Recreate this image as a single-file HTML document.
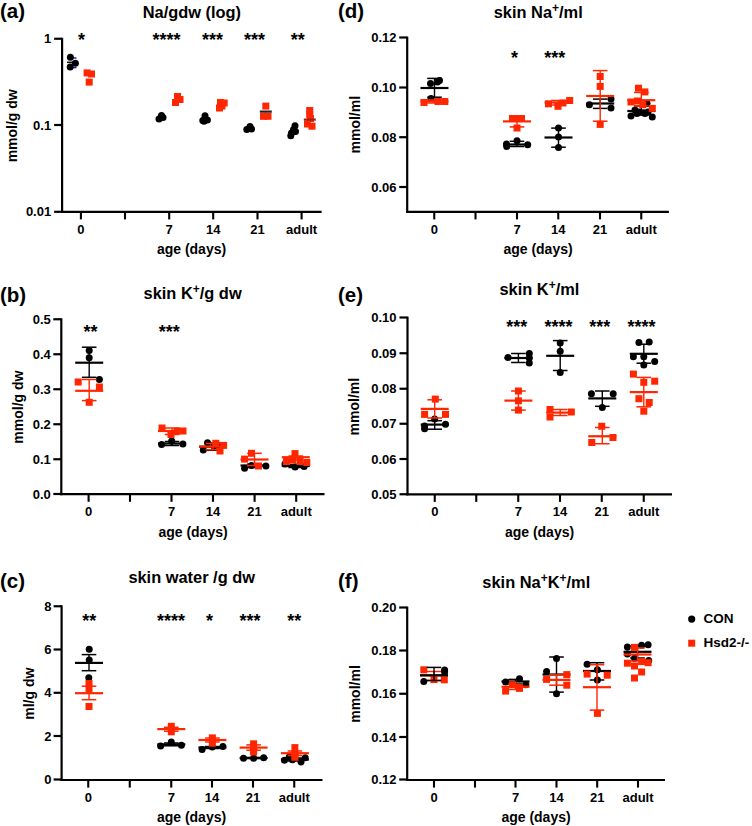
<!DOCTYPE html>
<html><head><meta charset="utf-8"><style>
html,body{margin:0;padding:0;background:#fff;}
svg{display:block;font-family:"Liberation Sans", sans-serif;}
</style></head><body>
<svg width="752" height="826" viewBox="0 0 752 826">
<rect width="752" height="826" fill="#fff"/>
<line x1="62.1" y1="37.8" x2="62.1" y2="212.8" stroke="#000000" stroke-width="2.2"/>
<line x1="54.1" y1="38.75" x2="62.1" y2="38.75" stroke="#000000" stroke-width="2.2"/>
<text x="51.2" y="43.35" font-size="13" text-anchor="end" font-weight="bold" >1</text>
<line x1="54.1" y1="125" x2="62.1" y2="125" stroke="#000000" stroke-width="2.2"/>
<text x="51.2" y="129.6" font-size="13" text-anchor="end" font-weight="bold" >0.1</text>
<line x1="54.1" y1="211.8" x2="62.1" y2="211.8" stroke="#000000" stroke-width="2.2"/>
<text x="51.2" y="216.4" font-size="13" text-anchor="end" font-weight="bold" >0.01</text>
<line x1="61.0" y1="211.8" x2="321.6" y2="211.8" stroke="#000000" stroke-width="2.2"/>
<line x1="80.9" y1="211.8" x2="80.9" y2="219.4" stroke="#000000" stroke-width="2.1"/>
<text x="80.9" y="233.7" font-size="13" text-anchor="middle" font-weight="bold" >0</text>
<line x1="125" y1="211.8" x2="125" y2="219.4" stroke="#000000" stroke-width="2.1"/>
<line x1="169.2" y1="211.8" x2="169.2" y2="219.4" stroke="#000000" stroke-width="2.1"/>
<text x="169.2" y="233.7" font-size="13" text-anchor="middle" font-weight="bold" >7</text>
<line x1="213.2" y1="211.8" x2="213.2" y2="219.4" stroke="#000000" stroke-width="2.1"/>
<text x="213.2" y="233.7" font-size="13" text-anchor="middle" font-weight="bold" >14</text>
<line x1="257.5" y1="211.8" x2="257.5" y2="219.4" stroke="#000000" stroke-width="2.1"/>
<text x="257.5" y="233.7" font-size="13" text-anchor="middle" font-weight="bold" >21</text>
<line x1="301.6" y1="211.8" x2="301.6" y2="219.4" stroke="#000000" stroke-width="2.1"/>
<text x="301.6" y="233.7" font-size="13" text-anchor="middle" font-weight="bold" >adult</text>
<text x="191.9" y="17.9" font-size="16.4" text-anchor="middle" font-weight="bold">Na/gdw (log)</text>
<text x="0" y="18" font-size="20.5" text-anchor="start" font-weight="bold" >(a)</text>
<text x="191.5" y="253.5" font-size="14" text-anchor="middle" font-weight="bold" >age (days)</text>
<text transform="translate(17.4,125.8) rotate(-90)" font-size="14" text-anchor="middle" font-weight="bold">mmol/g dw</text>
<text x="81.5" y="45.5" font-size="18" text-anchor="middle" font-weight="bold" >*</text>
<text x="166.4" y="45.5" font-size="18" text-anchor="middle" font-weight="bold" >****</text>
<text x="212.5" y="45.5" font-size="18" text-anchor="middle" font-weight="bold" >***</text>
<text x="254.6" y="45.5" font-size="18" text-anchor="middle" font-weight="bold" >***</text>
<text x="297.8" y="45.5" font-size="18" text-anchor="middle" font-weight="bold" >**</text>
<line x1="70.5" y1="58" x2="76.5" y2="58" stroke="#1818c8" stroke-width="1.4"/>
<line x1="70.5" y1="67.6" x2="76.5" y2="67.6" stroke="#1818c8" stroke-width="1.4"/>
<line x1="67" y1="62.3" x2="77" y2="62.3" stroke="#111" stroke-width="1.6"/>
<circle cx="70.4" cy="57.3" r="3.5" fill="#000000"/>
<circle cx="75.4" cy="63.3" r="3.5" fill="#000000"/>
<circle cx="70.2" cy="67.1" r="3.5" fill="#000000"/>
<rect x="83.60" y="69.40" width="7" height="7" fill="#FF2600"/>
<rect x="88.00" y="70.50" width="7" height="7" fill="#FF2600"/>
<rect x="85.70" y="78.60" width="7" height="7" fill="#FF2600"/>
<circle cx="159" cy="119" r="3.5" fill="#000000"/>
<circle cx="161.5" cy="115.5" r="3.5" fill="#000000"/>
<circle cx="163" cy="117.5" r="3.5" fill="#000000"/>
<rect x="174.00" y="93.00" width="7" height="7" fill="#FF2600"/>
<rect x="176.50" y="96.00" width="7" height="7" fill="#FF2600"/>
<rect x="172.00" y="99.00" width="7" height="7" fill="#FF2600"/>
<circle cx="205" cy="115.7" r="3.5" fill="#000000"/>
<circle cx="202.8" cy="120.5" r="3.5" fill="#000000"/>
<circle cx="207.4" cy="120" r="3.5" fill="#000000"/>
<circle cx="204" cy="121.2" r="3.5" fill="#000000"/>
<rect x="217.00" y="99.00" width="7" height="7" fill="#FF2600"/>
<rect x="220.70" y="99.50" width="7" height="7" fill="#FF2600"/>
<rect x="216.00" y="104.50" width="7" height="7" fill="#FF2600"/>
<rect x="218.50" y="102.50" width="7" height="7" fill="#FF2600"/>
<circle cx="250" cy="126.4" r="3.5" fill="#000000"/>
<circle cx="246.8" cy="129.5" r="3.5" fill="#000000"/>
<circle cx="251.5" cy="129" r="3.5" fill="#000000"/>
<rect x="262.30" y="102.60" width="7" height="7" fill="#FF2600"/>
<rect x="260.00" y="112.80" width="7" height="7" fill="#FF2600"/>
<rect x="264.50" y="112.80" width="7" height="7" fill="#FF2600"/>
<line x1="259.8" y1="111.6" x2="271.8" y2="111.6" stroke="#222" stroke-width="2.2"/>
<circle cx="295" cy="125.7" r="3.5" fill="#000000"/>
<circle cx="293.5" cy="129.5" r="3.5" fill="#000000"/>
<circle cx="295.5" cy="131.5" r="3.5" fill="#000000"/>
<circle cx="291.5" cy="133" r="3.5" fill="#000000"/>
<circle cx="290.8" cy="135.8" r="3.5" fill="#000000"/>
<rect x="306.20" y="107.00" width="7" height="7" fill="#FF2600"/>
<rect x="306.20" y="111.00" width="7" height="7" fill="#FF2600"/>
<rect x="307.00" y="115.00" width="7" height="7" fill="#FF2600"/>
<rect x="304.00" y="120.50" width="7" height="7" fill="#FF2600"/>
<rect x="308.50" y="122.70" width="7" height="7" fill="#FF2600"/>
<line x1="303.8" y1="119.6" x2="315.8" y2="119.6" stroke="#a02010" stroke-width="2.2"/>
<line x1="61.3" y1="318.3" x2="61.3" y2="495.2" stroke="#000000" stroke-width="2.2"/>
<line x1="53.3" y1="319.25" x2="61.3" y2="319.25" stroke="#000000" stroke-width="2.2"/>
<text x="50.8" y="323.85" font-size="13" text-anchor="end" font-weight="bold" >0.5</text>
<line x1="53.3" y1="354.25" x2="61.3" y2="354.25" stroke="#000000" stroke-width="2.2"/>
<text x="50.8" y="358.85" font-size="13" text-anchor="end" font-weight="bold" >0.4</text>
<line x1="53.3" y1="389.25" x2="61.3" y2="389.25" stroke="#000000" stroke-width="2.2"/>
<text x="50.8" y="393.85" font-size="13" text-anchor="end" font-weight="bold" >0.3</text>
<line x1="53.3" y1="424.25" x2="61.3" y2="424.25" stroke="#000000" stroke-width="2.2"/>
<text x="50.8" y="428.85" font-size="13" text-anchor="end" font-weight="bold" >0.2</text>
<line x1="53.3" y1="459.25" x2="61.3" y2="459.25" stroke="#000000" stroke-width="2.2"/>
<text x="50.8" y="463.85" font-size="13" text-anchor="end" font-weight="bold" >0.1</text>
<line x1="53.3" y1="494" x2="61.3" y2="494" stroke="#000000" stroke-width="2.2"/>
<text x="50.8" y="498.6" font-size="13" text-anchor="end" font-weight="bold" >0.0</text>
<line x1="60.199999999999996" y1="494.2" x2="324.5" y2="494.2" stroke="#000000" stroke-width="2.2"/>
<line x1="88.6" y1="494.2" x2="88.6" y2="501.8" stroke="#000000" stroke-width="2.1"/>
<text x="88.6" y="515.5" font-size="13" text-anchor="middle" font-weight="bold" >0</text>
<line x1="130" y1="494.2" x2="130" y2="501.8" stroke="#000000" stroke-width="2.1"/>
<line x1="171.5" y1="494.2" x2="171.5" y2="501.8" stroke="#000000" stroke-width="2.1"/>
<text x="171.5" y="515.5" font-size="13" text-anchor="middle" font-weight="bold" >7</text>
<line x1="213" y1="494.2" x2="213" y2="501.8" stroke="#000000" stroke-width="2.1"/>
<text x="213" y="515.5" font-size="13" text-anchor="middle" font-weight="bold" >14</text>
<line x1="254.6" y1="494.2" x2="254.6" y2="501.8" stroke="#000000" stroke-width="2.1"/>
<text x="254.6" y="515.5" font-size="13" text-anchor="middle" font-weight="bold" >21</text>
<line x1="296.2" y1="494.2" x2="296.2" y2="501.8" stroke="#000000" stroke-width="2.1"/>
<text x="296.2" y="515.5" font-size="13" text-anchor="middle" font-weight="bold" >adult</text>
<text x="192.6" y="299.2" font-size="16.4" text-anchor="middle" font-weight="bold">skin K<tspan font-size="12" dy="-6">+</tspan><tspan dy="6">/g dw</tspan></text>
<text x="0" y="301.5" font-size="20.5" text-anchor="start" font-weight="bold" >(b)</text>
<text x="193" y="536.6" font-size="14" text-anchor="middle" font-weight="bold" >age (days)</text>
<text transform="translate(23.2,407.1) rotate(-90)" font-size="14" text-anchor="middle" font-weight="bold">mmol/g dw</text>
<text x="90.5" y="337.6" font-size="18" text-anchor="middle" font-weight="bold" >**</text>
<text x="169.2" y="337.6" font-size="18" text-anchor="middle" font-weight="bold" >***</text>
<circle cx="89.2" cy="350.6" r="3.5" fill="#000000"/>
<circle cx="89.2" cy="357.8" r="3.5" fill="#000000"/>
<circle cx="99.4" cy="379.4" r="3.5" fill="#000000"/>
<line x1="89.2" y1="347.2" x2="89.2" y2="377.3" stroke="#000000" stroke-width="1.4"/>
<line x1="81.9" y1="347.2" x2="96.5" y2="347.2" stroke="#000000" stroke-width="1.5"/>
<line x1="81.9" y1="377.3" x2="96.5" y2="377.3" stroke="#000000" stroke-width="1.5"/>
<line x1="75.2" y1="362.7" x2="103.2" y2="362.7" stroke="#000000" stroke-width="2.2"/>
<rect x="74.70" y="378.50" width="7" height="7" fill="#FF2600"/>
<rect x="95.90" y="383.50" width="7" height="7" fill="#FF2600"/>
<rect x="85.70" y="398.80" width="7" height="7" fill="#FF2600"/>
<line x1="89.2" y1="379.5" x2="89.2" y2="400.6" stroke="#FF2600" stroke-width="1.4"/>
<line x1="81.9" y1="379.5" x2="96.5" y2="379.5" stroke="#FF2600" stroke-width="1.5"/>
<line x1="81.9" y1="400.6" x2="96.5" y2="400.6" stroke="#FF2600" stroke-width="1.5"/>
<line x1="75.2" y1="390.8" x2="103.2" y2="390.8" stroke="#FF2600" stroke-width="2.2"/>
<circle cx="161.6" cy="444.6" r="3.5" fill="#000000"/>
<circle cx="171.7" cy="440.9" r="3.5" fill="#000000"/>
<circle cx="182.9" cy="444" r="3.5" fill="#000000"/>
<line x1="172" y1="441.5" x2="172" y2="445.5" stroke="#000000" stroke-width="1.4"/>
<line x1="164.7" y1="441.5" x2="179.3" y2="441.5" stroke="#000000" stroke-width="1.5"/>
<line x1="164.7" y1="445.5" x2="179.3" y2="445.5" stroke="#000000" stroke-width="1.5"/>
<line x1="158" y1="443.5" x2="186" y2="443.5" stroke="#000000" stroke-width="2.2"/>
<rect x="158.50" y="424.50" width="7" height="7" fill="#FF2600"/>
<rect x="173.50" y="427.50" width="7" height="7" fill="#FF2600"/>
<rect x="179.50" y="427.50" width="7" height="7" fill="#FF2600"/>
<rect x="167.50" y="431.00" width="7" height="7" fill="#FF2600"/>
<line x1="172" y1="428" x2="172" y2="434.5" stroke="#FF2600" stroke-width="1.4"/>
<line x1="164.7" y1="428" x2="179.3" y2="428" stroke="#FF2600" stroke-width="1.5"/>
<line x1="164.7" y1="434.5" x2="179.3" y2="434.5" stroke="#FF2600" stroke-width="1.5"/>
<line x1="158" y1="431" x2="186" y2="431" stroke="#FF2600" stroke-width="2.2"/>
<circle cx="203.3" cy="450" r="3.5" fill="#000000"/>
<circle cx="207.5" cy="442.7" r="3.5" fill="#000000"/>
<circle cx="214" cy="446" r="3.5" fill="#000000"/>
<circle cx="220" cy="446.5" r="3.5" fill="#000000"/>
<line x1="213" y1="443" x2="213" y2="450.3" stroke="#000000" stroke-width="1.4"/>
<line x1="205.7" y1="443" x2="220.3" y2="443" stroke="#000000" stroke-width="1.5"/>
<line x1="205.7" y1="450.3" x2="220.3" y2="450.3" stroke="#000000" stroke-width="1.5"/>
<line x1="199" y1="446.7" x2="227" y2="446.7" stroke="#000000" stroke-width="2.2"/>
<rect x="212.30" y="439.80" width="7" height="7" fill="#FF2600"/>
<rect x="220.10" y="441.90" width="7" height="7" fill="#FF2600"/>
<rect x="216.50" y="447.50" width="7" height="7" fill="#FF2600"/>
<line x1="213" y1="443.5" x2="213" y2="449.7" stroke="#FF2600" stroke-width="1.4"/>
<line x1="205.7" y1="443.5" x2="220.3" y2="443.5" stroke="#FF2600" stroke-width="1.5"/>
<line x1="205.7" y1="449.7" x2="220.3" y2="449.7" stroke="#FF2600" stroke-width="1.5"/>
<line x1="199" y1="446.6" x2="227" y2="446.6" stroke="#FF2600" stroke-width="2.2"/>
<circle cx="244.6" cy="468.2" r="3.5" fill="#000000"/>
<circle cx="251.5" cy="465.5" r="3.5" fill="#000000"/>
<circle cx="265.9" cy="466" r="3.5" fill="#000000"/>
<line x1="254.5" y1="464" x2="254.5" y2="467.5" stroke="#000000" stroke-width="1.4"/>
<line x1="247.2" y1="464" x2="261.8" y2="464" stroke="#000000" stroke-width="1.5"/>
<line x1="247.2" y1="467.5" x2="261.8" y2="467.5" stroke="#000000" stroke-width="1.5"/>
<line x1="240.5" y1="465.5" x2="268.5" y2="465.5" stroke="#000000" stroke-width="2.2"/>
<rect x="248.00" y="449.80" width="7" height="7" fill="#FF2600"/>
<rect x="241.10" y="455.60" width="7" height="7" fill="#FF2600"/>
<rect x="254.90" y="462.50" width="7" height="7" fill="#FF2600"/>
<line x1="254.5" y1="453.3" x2="254.5" y2="465.5" stroke="#FF2600" stroke-width="1.4"/>
<line x1="247.2" y1="453.3" x2="261.8" y2="453.3" stroke="#FF2600" stroke-width="1.5"/>
<line x1="247.2" y1="465.5" x2="261.8" y2="465.5" stroke="#FF2600" stroke-width="1.5"/>
<line x1="240.5" y1="459.5" x2="268.5" y2="459.5" stroke="#FF2600" stroke-width="2.2"/>
<circle cx="285" cy="464" r="3.5" fill="#000000"/>
<circle cx="295.1" cy="467.1" r="3.5" fill="#000000"/>
<circle cx="304.1" cy="466.6" r="3.5" fill="#000000"/>
<line x1="295.75" y1="464.5" x2="295.75" y2="467.5" stroke="#000000" stroke-width="1.4"/>
<line x1="288.45" y1="464.5" x2="303.05" y2="464.5" stroke="#000000" stroke-width="1.5"/>
<line x1="288.45" y1="467.5" x2="303.05" y2="467.5" stroke="#000000" stroke-width="1.5"/>
<line x1="281.75" y1="466" x2="309.75" y2="466" stroke="#000000" stroke-width="2.2"/>
<rect x="291.50" y="450.10" width="7" height="7" fill="#FF2600"/>
<rect x="283.00" y="458.00" width="7" height="7" fill="#FF2600"/>
<rect x="289.00" y="456.50" width="7" height="7" fill="#FF2600"/>
<rect x="296.50" y="458.00" width="7" height="7" fill="#FF2600"/>
<rect x="303.30" y="459.00" width="7" height="7" fill="#FF2600"/>
<line x1="295.75" y1="456" x2="295.75" y2="460" stroke="#FF2600" stroke-width="1.4"/>
<line x1="288.45" y1="456" x2="303.05" y2="456" stroke="#FF2600" stroke-width="1.5"/>
<line x1="288.45" y1="460" x2="303.05" y2="460" stroke="#FF2600" stroke-width="1.5"/>
<line x1="281.75" y1="457.2" x2="309.75" y2="457.2" stroke="#FF2600" stroke-width="2.2"/>
<line x1="61.6" y1="605.3" x2="61.6" y2="781" stroke="#000000" stroke-width="2.2"/>
<line x1="53.6" y1="606.25" x2="61.6" y2="606.25" stroke="#000000" stroke-width="2.2"/>
<text x="51.5" y="610.85" font-size="13" text-anchor="end" font-weight="bold" >8</text>
<line x1="53.6" y1="649.5" x2="61.6" y2="649.5" stroke="#000000" stroke-width="2.2"/>
<text x="51.5" y="654.1" font-size="13" text-anchor="end" font-weight="bold" >6</text>
<line x1="53.6" y1="692.8" x2="61.6" y2="692.8" stroke="#000000" stroke-width="2.2"/>
<text x="51.5" y="697.4" font-size="13" text-anchor="end" font-weight="bold" >4</text>
<line x1="53.6" y1="736" x2="61.6" y2="736" stroke="#000000" stroke-width="2.2"/>
<text x="51.5" y="740.6" font-size="13" text-anchor="end" font-weight="bold" >2</text>
<line x1="53.6" y1="779.5" x2="61.6" y2="779.5" stroke="#000000" stroke-width="2.2"/>
<text x="51.5" y="784.1" font-size="13" text-anchor="end" font-weight="bold" >0</text>
<line x1="60.5" y1="780" x2="322.5" y2="780" stroke="#000000" stroke-width="2.2"/>
<line x1="88.25" y1="780" x2="88.25" y2="787.6" stroke="#000000" stroke-width="2.1"/>
<text x="88.25" y="802" font-size="13" text-anchor="middle" font-weight="bold" >0</text>
<line x1="129.75" y1="780" x2="129.75" y2="787.6" stroke="#000000" stroke-width="2.1"/>
<line x1="171.25" y1="780" x2="171.25" y2="787.6" stroke="#000000" stroke-width="2.1"/>
<text x="171.25" y="802" font-size="13" text-anchor="middle" font-weight="bold" >7</text>
<line x1="212" y1="780" x2="212" y2="787.6" stroke="#000000" stroke-width="2.1"/>
<text x="212" y="802" font-size="13" text-anchor="middle" font-weight="bold" >14</text>
<line x1="253" y1="780" x2="253" y2="787.6" stroke="#000000" stroke-width="2.1"/>
<text x="253" y="802" font-size="13" text-anchor="middle" font-weight="bold" >21</text>
<line x1="294.25" y1="780" x2="294.25" y2="787.6" stroke="#000000" stroke-width="2.1"/>
<text x="294.25" y="802" font-size="13" text-anchor="middle" font-weight="bold" >adult</text>
<text x="191.7" y="582.7" font-size="16.4" text-anchor="middle" font-weight="bold">skin water /g dw</text>
<text x="0" y="588" font-size="20.5" text-anchor="start" font-weight="bold" >(c)</text>
<text x="191.5" y="821.5" font-size="14" text-anchor="middle" font-weight="bold" >age (days)</text>
<text transform="translate(34.2,693.7) rotate(-90)" font-size="14" text-anchor="middle" font-weight="bold">ml/g dw</text>
<text x="89.2" y="627" font-size="18" text-anchor="middle" font-weight="bold" >**</text>
<text x="171.1" y="627" font-size="18" text-anchor="middle" font-weight="bold" >****</text>
<text x="209.4" y="627" font-size="18" text-anchor="middle" font-weight="bold" >*</text>
<text x="250" y="627" font-size="18" text-anchor="middle" font-weight="bold" >***</text>
<text x="294.2" y="627" font-size="18" text-anchor="middle" font-weight="bold" >**</text>
<circle cx="89.2" cy="649.3" r="3.5" fill="#000000"/>
<circle cx="89.2" cy="659.9" r="3.5" fill="#000000"/>
<circle cx="88.8" cy="677.7" r="3.5" fill="#000000"/>
<line x1="89" y1="654.6" x2="89" y2="670.7" stroke="#000000" stroke-width="1.4"/>
<line x1="81.7" y1="654.6" x2="96.3" y2="654.6" stroke="#000000" stroke-width="1.5"/>
<line x1="81.7" y1="670.7" x2="96.3" y2="670.7" stroke="#000000" stroke-width="1.5"/>
<line x1="75" y1="662.9" x2="103" y2="662.9" stroke="#000000" stroke-width="2.2"/>
<rect x="85.50" y="680.00" width="7" height="7" fill="#FF2600"/>
<rect x="85.50" y="685.50" width="7" height="7" fill="#FF2600"/>
<rect x="85.50" y="703.00" width="7" height="7" fill="#FF2600"/>
<line x1="89" y1="686.2" x2="89" y2="699.7" stroke="#FF2600" stroke-width="1.4"/>
<line x1="81.7" y1="686.2" x2="96.3" y2="686.2" stroke="#FF2600" stroke-width="1.5"/>
<line x1="81.7" y1="699.7" x2="96.3" y2="699.7" stroke="#FF2600" stroke-width="1.5"/>
<line x1="75" y1="693.2" x2="103" y2="693.2" stroke="#FF2600" stroke-width="2.2"/>
<circle cx="160.6" cy="745.9" r="3.5" fill="#000000"/>
<circle cx="171.3" cy="742.1" r="3.5" fill="#000000"/>
<circle cx="181.4" cy="745.3" r="3.5" fill="#000000"/>
<line x1="171.3" y1="743" x2="171.3" y2="745.8" stroke="#000000" stroke-width="1.4"/>
<line x1="164.0" y1="743" x2="178.60000000000002" y2="743" stroke="#000000" stroke-width="1.5"/>
<line x1="164.0" y1="745.8" x2="178.60000000000002" y2="745.8" stroke="#000000" stroke-width="1.5"/>
<line x1="157.3" y1="744.4" x2="185.3" y2="744.4" stroke="#000000" stroke-width="2.2"/>
<rect x="167.80" y="722.80" width="7" height="7" fill="#FF2600"/>
<rect x="167.80" y="728.30" width="7" height="7" fill="#FF2600"/>
<line x1="171.3" y1="727.3" x2="171.3" y2="731.2" stroke="#FF2600" stroke-width="1.4"/>
<line x1="164.0" y1="727.3" x2="178.60000000000002" y2="727.3" stroke="#FF2600" stroke-width="1.5"/>
<line x1="164.0" y1="731.2" x2="178.60000000000002" y2="731.2" stroke="#FF2600" stroke-width="1.5"/>
<line x1="157.3" y1="729.1" x2="185.3" y2="729.1" stroke="#FF2600" stroke-width="2.2"/>
<circle cx="202.1" cy="749.6" r="3.5" fill="#000000"/>
<circle cx="212.2" cy="746.9" r="3.5" fill="#000000"/>
<circle cx="222.9" cy="746.4" r="3.5" fill="#000000"/>
<line x1="212.4" y1="746.5" x2="212.4" y2="748.5" stroke="#000000" stroke-width="1.4"/>
<line x1="205.1" y1="746.5" x2="219.70000000000002" y2="746.5" stroke="#000000" stroke-width="1.5"/>
<line x1="205.1" y1="748.5" x2="219.70000000000002" y2="748.5" stroke="#000000" stroke-width="1.5"/>
<line x1="198.4" y1="747.5" x2="226.4" y2="747.5" stroke="#000000" stroke-width="2.2"/>
<rect x="208.90" y="734.40" width="7" height="7" fill="#FF2600"/>
<rect x="208.90" y="739.70" width="7" height="7" fill="#FF2600"/>
<line x1="212.4" y1="738" x2="212.4" y2="742" stroke="#FF2600" stroke-width="1.4"/>
<line x1="205.1" y1="738" x2="219.70000000000002" y2="738" stroke="#FF2600" stroke-width="1.5"/>
<line x1="205.1" y1="742" x2="219.70000000000002" y2="742" stroke="#FF2600" stroke-width="1.5"/>
<line x1="198.4" y1="740" x2="226.4" y2="740" stroke="#FF2600" stroke-width="2.2"/>
<circle cx="243.5" cy="758.2" r="3.5" fill="#000000"/>
<circle cx="253.6" cy="758.2" r="3.5" fill="#000000"/>
<circle cx="263.7" cy="757.7" r="3.5" fill="#000000"/>
<line x1="253.6" y1="757.5" x2="253.6" y2="758.5" stroke="#000000" stroke-width="1.4"/>
<line x1="246.29999999999998" y1="757.5" x2="260.9" y2="757.5" stroke="#000000" stroke-width="1.5"/>
<line x1="246.29999999999998" y1="758.5" x2="260.9" y2="758.5" stroke="#000000" stroke-width="1.5"/>
<line x1="239.6" y1="758" x2="267.6" y2="758" stroke="#000000" stroke-width="2.2"/>
<rect x="250.10" y="740.30" width="7" height="7" fill="#FF2600"/>
<rect x="250.10" y="746.50" width="7" height="7" fill="#FF2600"/>
<rect x="250.10" y="748.50" width="7" height="7" fill="#FF2600"/>
<line x1="253.6" y1="744.9" x2="253.6" y2="750.2" stroke="#FF2600" stroke-width="1.4"/>
<line x1="246.29999999999998" y1="744.9" x2="260.9" y2="744.9" stroke="#FF2600" stroke-width="1.5"/>
<line x1="246.29999999999998" y1="750.2" x2="260.9" y2="750.2" stroke="#FF2600" stroke-width="1.5"/>
<line x1="239.6" y1="747.6" x2="267.6" y2="747.6" stroke="#FF2600" stroke-width="2.2"/>
<circle cx="284.5" cy="760.3" r="3.5" fill="#000000"/>
<circle cx="289.3" cy="757.1" r="3.5" fill="#000000"/>
<circle cx="292.4" cy="759.8" r="3.5" fill="#000000"/>
<circle cx="301" cy="761.9" r="3.5" fill="#000000"/>
<circle cx="305.2" cy="757.7" r="3.5" fill="#000000"/>
<line x1="294.9" y1="758" x2="294.9" y2="761" stroke="#000000" stroke-width="1.4"/>
<line x1="287.59999999999997" y1="758" x2="302.2" y2="758" stroke="#000000" stroke-width="1.5"/>
<line x1="287.59999999999997" y1="761" x2="302.2" y2="761" stroke="#000000" stroke-width="1.5"/>
<line x1="280.9" y1="759.5" x2="308.9" y2="759.5" stroke="#000000" stroke-width="2.2"/>
<rect x="291.40" y="744.10" width="7" height="7" fill="#FF2600"/>
<rect x="291.40" y="750.50" width="7" height="7" fill="#FF2600"/>
<rect x="291.40" y="753.80" width="7" height="7" fill="#FF2600"/>
<line x1="294.9" y1="751" x2="294.9" y2="755.5" stroke="#FF2600" stroke-width="1.4"/>
<line x1="287.59999999999997" y1="751" x2="302.2" y2="751" stroke="#FF2600" stroke-width="1.5"/>
<line x1="287.59999999999997" y1="755.5" x2="302.2" y2="755.5" stroke="#FF2600" stroke-width="1.5"/>
<line x1="280.9" y1="753.2" x2="308.9" y2="753.2" stroke="#FF2600" stroke-width="2.2"/>
<line x1="407.2" y1="36.6" x2="407.2" y2="212.8" stroke="#000000" stroke-width="2.2"/>
<line x1="399.2" y1="37.5" x2="407.2" y2="37.5" stroke="#000000" stroke-width="2.2"/>
<text x="396.5" y="42.1" font-size="13" text-anchor="end" font-weight="bold" >0.12</text>
<line x1="399.2" y1="87.5" x2="407.2" y2="87.5" stroke="#000000" stroke-width="2.2"/>
<text x="396.5" y="92.1" font-size="13" text-anchor="end" font-weight="bold" >0.10</text>
<line x1="399.2" y1="137.2" x2="407.2" y2="137.2" stroke="#000000" stroke-width="2.2"/>
<text x="396.5" y="141.79999999999998" font-size="13" text-anchor="end" font-weight="bold" >0.08</text>
<line x1="399.2" y1="187" x2="407.2" y2="187" stroke="#000000" stroke-width="2.2"/>
<text x="396.5" y="191.6" font-size="13" text-anchor="end" font-weight="bold" >0.06</text>
<line x1="406.09999999999997" y1="211.8" x2="668.9" y2="211.8" stroke="#000000" stroke-width="2.2"/>
<line x1="434.25" y1="211.8" x2="434.25" y2="219.4" stroke="#000000" stroke-width="2.1"/>
<text x="434.25" y="233.7" font-size="13" text-anchor="middle" font-weight="bold" >0</text>
<line x1="475.5" y1="211.8" x2="475.5" y2="219.4" stroke="#000000" stroke-width="2.1"/>
<line x1="517" y1="211.8" x2="517" y2="219.4" stroke="#000000" stroke-width="2.1"/>
<text x="517" y="233.7" font-size="13" text-anchor="middle" font-weight="bold" >7</text>
<line x1="558.25" y1="211.8" x2="558.25" y2="219.4" stroke="#000000" stroke-width="2.1"/>
<text x="558.25" y="233.7" font-size="13" text-anchor="middle" font-weight="bold" >14</text>
<line x1="600" y1="211.8" x2="600" y2="219.4" stroke="#000000" stroke-width="2.1"/>
<text x="600" y="233.7" font-size="13" text-anchor="middle" font-weight="bold" >21</text>
<line x1="641.25" y1="211.8" x2="641.25" y2="219.4" stroke="#000000" stroke-width="2.1"/>
<text x="641.25" y="233.7" font-size="13" text-anchor="middle" font-weight="bold" >adult</text>
<text x="538.2" y="18.1" font-size="16.4" text-anchor="middle" font-weight="bold">skin Na<tspan font-size="12" dy="-6">+</tspan><tspan dy="6">/ml</tspan></text>
<text x="338" y="18" font-size="20.5" text-anchor="start" font-weight="bold" >(d)</text>
<text x="538" y="253.5" font-size="14" text-anchor="middle" font-weight="bold" >age (days)</text>
<text transform="translate(360.4,124.7) rotate(-90)" font-size="14" text-anchor="middle" font-weight="bold">mmol/ml</text>
<text x="514.4" y="64" font-size="18" text-anchor="middle" font-weight="bold" >*</text>
<text x="554.7" y="64" font-size="18" text-anchor="middle" font-weight="bold" >***</text>
<circle cx="439.5" cy="80.5" r="3.5" fill="#000000"/>
<circle cx="430.5" cy="83.5" r="3.5" fill="#000000"/>
<circle cx="431" cy="98.5" r="3.5" fill="#000000"/>
<circle cx="437.5" cy="82" r="3.5" fill="#000000"/>
<line x1="434.5" y1="78.4" x2="434.5" y2="97.2" stroke="#000000" stroke-width="1.4"/>
<line x1="427.2" y1="78.4" x2="441.8" y2="78.4" stroke="#000000" stroke-width="1.5"/>
<line x1="427.2" y1="97.2" x2="441.8" y2="97.2" stroke="#000000" stroke-width="1.5"/>
<line x1="420.5" y1="88" x2="448.5" y2="88" stroke="#000000" stroke-width="2.2"/>
<rect x="420.50" y="99.00" width="7" height="7" fill="#FF2600"/>
<rect x="434.50" y="98.00" width="7" height="7" fill="#FF2600"/>
<rect x="441.30" y="98.00" width="7" height="7" fill="#FF2600"/>
<line x1="434.5" y1="100" x2="434.5" y2="103" stroke="#FF2600" stroke-width="1.4"/>
<line x1="427.2" y1="100" x2="441.8" y2="100" stroke="#FF2600" stroke-width="1.5"/>
<line x1="427.2" y1="103" x2="441.8" y2="103" stroke="#FF2600" stroke-width="1.5"/>
<line x1="420.5" y1="101.4" x2="448.5" y2="101.4" stroke="#FF2600" stroke-width="2.2"/>
<circle cx="506.7" cy="146.5" r="3.5" fill="#000000"/>
<circle cx="517" cy="140.8" r="3.5" fill="#000000"/>
<circle cx="527.7" cy="144.7" r="3.5" fill="#000000"/>
<circle cx="506.5" cy="144" r="3.5" fill="#000000"/>
<line x1="517" y1="141.3" x2="517" y2="146.5" stroke="#000000" stroke-width="1.4"/>
<line x1="509.7" y1="141.3" x2="524.3" y2="141.3" stroke="#000000" stroke-width="1.5"/>
<line x1="509.7" y1="146.5" x2="524.3" y2="146.5" stroke="#000000" stroke-width="1.5"/>
<line x1="503" y1="144.5" x2="531" y2="144.5" stroke="#000000" stroke-width="2.2"/>
<rect x="509.00" y="115.00" width="7" height="7" fill="#FF2600"/>
<rect x="518.00" y="115.00" width="7" height="7" fill="#FF2600"/>
<rect x="513.50" y="124.50" width="7" height="7" fill="#FF2600"/>
<rect x="513.50" y="115.00" width="7" height="7" fill="#FF2600"/>
<line x1="517" y1="117" x2="517" y2="126.9" stroke="#FF2600" stroke-width="1.4"/>
<line x1="509.7" y1="117" x2="524.3" y2="117" stroke="#FF2600" stroke-width="1.5"/>
<line x1="509.7" y1="126.9" x2="524.3" y2="126.9" stroke="#FF2600" stroke-width="1.5"/>
<line x1="503" y1="121.4" x2="531" y2="121.4" stroke="#FF2600" stroke-width="2.2"/>
<circle cx="558.5" cy="128.1" r="3.5" fill="#000000"/>
<circle cx="558.5" cy="136.9" r="3.5" fill="#000000"/>
<circle cx="558.5" cy="147.4" r="3.5" fill="#000000"/>
<line x1="558.5" y1="128.1" x2="558.5" y2="147.2" stroke="#000000" stroke-width="1.4"/>
<line x1="551.2" y1="128.1" x2="565.8" y2="128.1" stroke="#000000" stroke-width="1.5"/>
<line x1="551.2" y1="147.2" x2="565.8" y2="147.2" stroke="#000000" stroke-width="1.5"/>
<line x1="544.5" y1="137.5" x2="572.5" y2="137.5" stroke="#000000" stroke-width="2.2"/>
<rect x="545.00" y="100.30" width="7" height="7" fill="#FF2600"/>
<rect x="554.50" y="102.80" width="7" height="7" fill="#FF2600"/>
<rect x="559.50" y="99.50" width="7" height="7" fill="#FF2600"/>
<rect x="566.20" y="97.00" width="7" height="7" fill="#FF2600"/>
<line x1="558.5" y1="100.5" x2="558.5" y2="105" stroke="#FF2600" stroke-width="1.4"/>
<line x1="551.2" y1="100.5" x2="565.8" y2="100.5" stroke="#FF2600" stroke-width="1.5"/>
<line x1="551.2" y1="105" x2="565.8" y2="105" stroke="#FF2600" stroke-width="1.5"/>
<line x1="544.5" y1="102.5" x2="572.5" y2="102.5" stroke="#FF2600" stroke-width="2.2"/>
<circle cx="589.4" cy="104.7" r="3.5" fill="#000000"/>
<circle cx="611" cy="99" r="3.5" fill="#000000"/>
<circle cx="611" cy="108" r="3.5" fill="#000000"/>
<line x1="600.2" y1="99.1" x2="600.2" y2="108.4" stroke="#000000" stroke-width="1.4"/>
<line x1="592.9000000000001" y1="99.1" x2="607.5" y2="99.1" stroke="#000000" stroke-width="1.5"/>
<line x1="592.9000000000001" y1="108.4" x2="607.5" y2="108.4" stroke="#000000" stroke-width="1.5"/>
<line x1="586.2" y1="103.5" x2="614.2" y2="103.5" stroke="#000000" stroke-width="2.2"/>
<rect x="596.70" y="73.00" width="7" height="7" fill="#FF2600"/>
<rect x="596.70" y="82.90" width="7" height="7" fill="#FF2600"/>
<rect x="596.70" y="120.90" width="7" height="7" fill="#FF2600"/>
<line x1="600.2" y1="70.6" x2="600.2" y2="121.2" stroke="#FF2600" stroke-width="1.4"/>
<line x1="592.9000000000001" y1="70.6" x2="607.5" y2="70.6" stroke="#FF2600" stroke-width="1.5"/>
<line x1="592.9000000000001" y1="121.2" x2="607.5" y2="121.2" stroke="#FF2600" stroke-width="1.5"/>
<line x1="586.2" y1="96" x2="614.2" y2="96" stroke="#FF2600" stroke-width="2.2"/>
<circle cx="631" cy="115.9" r="3.5" fill="#000000"/>
<circle cx="652.3" cy="116.9" r="3.5" fill="#000000"/>
<circle cx="647" cy="103.6" r="3.5" fill="#000000"/>
<circle cx="639.6" cy="112.1" r="3.5" fill="#000000"/>
<circle cx="643.8" cy="112.7" r="3.5" fill="#000000"/>
<circle cx="635" cy="110" r="3.5" fill="#000000"/>
<circle cx="637" cy="113.5" r="3.5" fill="#000000"/>
<circle cx="645" cy="113.5" r="3.5" fill="#000000"/>
<circle cx="648" cy="112" r="3.5" fill="#000000"/>
<line x1="641.3" y1="106" x2="641.3" y2="115" stroke="#000000" stroke-width="1.4"/>
<line x1="634.0" y1="106" x2="648.5999999999999" y2="106" stroke="#000000" stroke-width="1.5"/>
<line x1="634.0" y1="115" x2="648.5999999999999" y2="115" stroke="#000000" stroke-width="1.5"/>
<line x1="627.3" y1="111" x2="655.3" y2="111" stroke="#000000" stroke-width="2.2"/>
<rect x="635.00" y="84.70" width="7" height="7" fill="#FF2600"/>
<rect x="641.40" y="88.40" width="7" height="7" fill="#FF2600"/>
<rect x="627.50" y="98.50" width="7" height="7" fill="#FF2600"/>
<rect x="633.90" y="97.50" width="7" height="7" fill="#FF2600"/>
<rect x="639.30" y="101.20" width="7" height="7" fill="#FF2600"/>
<rect x="648.80" y="104.90" width="7" height="7" fill="#FF2600"/>
<line x1="641.3" y1="92.5" x2="641.3" y2="106" stroke="#FF2600" stroke-width="1.4"/>
<line x1="634.0" y1="92.5" x2="648.5999999999999" y2="92.5" stroke="#FF2600" stroke-width="1.5"/>
<line x1="634.0" y1="106" x2="648.5999999999999" y2="106" stroke="#FF2600" stroke-width="1.5"/>
<line x1="627.3" y1="100.2" x2="655.3" y2="100.2" stroke="#FF2600" stroke-width="2.2"/>
<line x1="407.5" y1="316.6" x2="407.5" y2="495.3" stroke="#000000" stroke-width="2.2"/>
<line x1="399.5" y1="317.5" x2="407.5" y2="317.5" stroke="#000000" stroke-width="2.2"/>
<text x="396.5" y="322.1" font-size="13" text-anchor="end" font-weight="bold" >0.10</text>
<line x1="399.5" y1="353.25" x2="407.5" y2="353.25" stroke="#000000" stroke-width="2.2"/>
<text x="396.5" y="357.85" font-size="13" text-anchor="end" font-weight="bold" >0.09</text>
<line x1="399.5" y1="388.75" x2="407.5" y2="388.75" stroke="#000000" stroke-width="2.2"/>
<text x="396.5" y="393.35" font-size="13" text-anchor="end" font-weight="bold" >0.08</text>
<line x1="399.5" y1="423.75" x2="407.5" y2="423.75" stroke="#000000" stroke-width="2.2"/>
<text x="396.5" y="428.35" font-size="13" text-anchor="end" font-weight="bold" >0.07</text>
<line x1="399.5" y1="459" x2="407.5" y2="459" stroke="#000000" stroke-width="2.2"/>
<text x="396.5" y="463.6" font-size="13" text-anchor="end" font-weight="bold" >0.06</text>
<line x1="399.5" y1="494.25" x2="407.5" y2="494.25" stroke="#000000" stroke-width="2.2"/>
<text x="396.5" y="498.85" font-size="13" text-anchor="end" font-weight="bold" >0.05</text>
<line x1="406.4" y1="494.3" x2="672" y2="494.3" stroke="#000000" stroke-width="2.2"/>
<line x1="434.75" y1="494.3" x2="434.75" y2="501.90000000000003" stroke="#000000" stroke-width="2.1"/>
<text x="434.75" y="516" font-size="13" text-anchor="middle" font-weight="bold" >0</text>
<line x1="476.25" y1="494.3" x2="476.25" y2="501.90000000000003" stroke="#000000" stroke-width="2.1"/>
<line x1="518.25" y1="494.3" x2="518.25" y2="501.90000000000003" stroke="#000000" stroke-width="2.1"/>
<text x="518.25" y="516" font-size="13" text-anchor="middle" font-weight="bold" >7</text>
<line x1="560" y1="494.3" x2="560" y2="501.90000000000003" stroke="#000000" stroke-width="2.1"/>
<text x="560" y="516" font-size="13" text-anchor="middle" font-weight="bold" >14</text>
<line x1="601.75" y1="494.3" x2="601.75" y2="501.90000000000003" stroke="#000000" stroke-width="2.1"/>
<text x="601.75" y="516" font-size="13" text-anchor="middle" font-weight="bold" >21</text>
<line x1="643.75" y1="494.3" x2="643.75" y2="501.90000000000003" stroke="#000000" stroke-width="2.1"/>
<text x="643.75" y="516" font-size="13" text-anchor="middle" font-weight="bold" >adult</text>
<text x="539.4" y="294.9" font-size="16.4" text-anchor="middle" font-weight="bold">skin K<tspan font-size="12" dy="-6">+</tspan><tspan dy="6">/ml</tspan></text>
<text x="338" y="301.5" font-size="20.5" text-anchor="start" font-weight="bold" >(e)</text>
<text x="539.5" y="536.6" font-size="14" text-anchor="middle" font-weight="bold" >age (days)</text>
<text transform="translate(359,406.6) rotate(-90)" font-size="14" text-anchor="middle" font-weight="bold">mmol/ml</text>
<text x="516.8" y="332.6" font-size="18" text-anchor="middle" font-weight="bold" >***</text>
<text x="558.5" y="332.6" font-size="18" text-anchor="middle" font-weight="bold" >****</text>
<text x="599.8" y="332.6" font-size="18" text-anchor="middle" font-weight="bold" >***</text>
<text x="641.4" y="332.6" font-size="18" text-anchor="middle" font-weight="bold" >****</text>
<circle cx="445.5" cy="424.3" r="3.5" fill="#000000"/>
<circle cx="424.6" cy="426" r="3.5" fill="#000000"/>
<circle cx="424.6" cy="428.8" r="3.5" fill="#000000"/>
<circle cx="434.6" cy="419" r="3.5" fill="#000000"/>
<line x1="434.7" y1="420.7" x2="434.7" y2="429.2" stroke="#000000" stroke-width="1.4"/>
<line x1="427.4" y1="420.7" x2="442.0" y2="420.7" stroke="#000000" stroke-width="1.5"/>
<line x1="427.4" y1="429.2" x2="442.0" y2="429.2" stroke="#000000" stroke-width="1.5"/>
<line x1="420.7" y1="424.6" x2="448.7" y2="424.6" stroke="#000000" stroke-width="2.2"/>
<rect x="431.80" y="395.60" width="7" height="7" fill="#FF2600"/>
<rect x="421.10" y="410.90" width="7" height="7" fill="#FF2600"/>
<rect x="442.00" y="410.90" width="7" height="7" fill="#FF2600"/>
<line x1="434.7" y1="399.8" x2="434.7" y2="418" stroke="#FF2600" stroke-width="1.4"/>
<line x1="427.4" y1="399.8" x2="442.0" y2="399.8" stroke="#FF2600" stroke-width="1.5"/>
<line x1="427.4" y1="418" x2="442.0" y2="418" stroke="#FF2600" stroke-width="1.5"/>
<line x1="420.7" y1="408.9" x2="448.7" y2="408.9" stroke="#FF2600" stroke-width="2.2"/>
<circle cx="508" cy="357.5" r="3.5" fill="#000000"/>
<circle cx="529.3" cy="353.5" r="3.5" fill="#000000"/>
<circle cx="529.3" cy="358" r="3.5" fill="#000000"/>
<circle cx="529.3" cy="363" r="3.5" fill="#000000"/>
<line x1="518.4" y1="353.5" x2="518.4" y2="362.5" stroke="#000000" stroke-width="1.4"/>
<line x1="511.09999999999997" y1="353.5" x2="525.6999999999999" y2="353.5" stroke="#000000" stroke-width="1.5"/>
<line x1="511.09999999999997" y1="362.5" x2="525.6999999999999" y2="362.5" stroke="#000000" stroke-width="1.5"/>
<line x1="504.4" y1="358" x2="532.4" y2="358" stroke="#000000" stroke-width="2.2"/>
<rect x="514.90" y="387.50" width="7" height="7" fill="#FF2600"/>
<rect x="514.90" y="397.30" width="7" height="7" fill="#FF2600"/>
<rect x="514.90" y="406.60" width="7" height="7" fill="#FF2600"/>
<line x1="518.4" y1="391" x2="518.4" y2="410.1" stroke="#FF2600" stroke-width="1.4"/>
<line x1="511.09999999999997" y1="391" x2="525.6999999999999" y2="391" stroke="#FF2600" stroke-width="1.5"/>
<line x1="511.09999999999997" y1="410.1" x2="525.6999999999999" y2="410.1" stroke="#FF2600" stroke-width="1.5"/>
<line x1="504.4" y1="400.6" x2="532.4" y2="400.6" stroke="#FF2600" stroke-width="2.2"/>
<circle cx="560.2" cy="343.1" r="3.5" fill="#000000"/>
<circle cx="560.2" cy="351.3" r="3.5" fill="#000000"/>
<circle cx="560.2" cy="372.5" r="3.5" fill="#000000"/>
<line x1="560.2" y1="340.6" x2="560.2" y2="370.5" stroke="#000000" stroke-width="1.4"/>
<line x1="552.9000000000001" y1="340.6" x2="567.5" y2="340.6" stroke="#000000" stroke-width="1.5"/>
<line x1="552.9000000000001" y1="370.5" x2="567.5" y2="370.5" stroke="#000000" stroke-width="1.5"/>
<line x1="546.2" y1="355.8" x2="574.2" y2="355.8" stroke="#000000" stroke-width="2.2"/>
<rect x="546.50" y="406.00" width="7" height="7" fill="#FF2600"/>
<rect x="546.50" y="413.50" width="7" height="7" fill="#FF2600"/>
<rect x="567.80" y="408.50" width="7" height="7" fill="#FF2600"/>
<line x1="560.2" y1="409.5" x2="560.2" y2="415.5" stroke="#FF2600" stroke-width="1.4"/>
<line x1="552.9000000000001" y1="409.5" x2="567.5" y2="409.5" stroke="#FF2600" stroke-width="1.5"/>
<line x1="552.9000000000001" y1="415.5" x2="567.5" y2="415.5" stroke="#FF2600" stroke-width="1.5"/>
<line x1="546.2" y1="412.6" x2="574.2" y2="412.6" stroke="#FF2600" stroke-width="2.2"/>
<circle cx="591.4" cy="393.8" r="3.5" fill="#000000"/>
<circle cx="613.2" cy="393.8" r="3.5" fill="#000000"/>
<circle cx="602.3" cy="407.4" r="3.5" fill="#000000"/>
<line x1="602.3" y1="391" x2="602.3" y2="406.3" stroke="#000000" stroke-width="1.4"/>
<line x1="595.0" y1="391" x2="609.5999999999999" y2="391" stroke="#000000" stroke-width="1.5"/>
<line x1="595.0" y1="406.3" x2="609.5999999999999" y2="406.3" stroke="#000000" stroke-width="1.5"/>
<line x1="588.3" y1="398.4" x2="616.3" y2="398.4" stroke="#000000" stroke-width="2.2"/>
<rect x="598.25" y="422.75" width="7" height="7" fill="#FF2600"/>
<rect x="588.25" y="439.00" width="7" height="7" fill="#FF2600"/>
<rect x="609.50" y="434.00" width="7" height="7" fill="#FF2600"/>
<line x1="602.3" y1="427.5" x2="602.3" y2="443.75" stroke="#FF2600" stroke-width="1.4"/>
<line x1="595.0" y1="427.5" x2="609.5999999999999" y2="427.5" stroke="#FF2600" stroke-width="1.5"/>
<line x1="595.0" y1="443.75" x2="609.5999999999999" y2="443.75" stroke="#FF2600" stroke-width="1.5"/>
<line x1="588.3" y1="436.25" x2="616.3" y2="436.25" stroke="#FF2600" stroke-width="2.2"/>
<circle cx="638.9" cy="342.5" r="3.5" fill="#000000"/>
<circle cx="649.2" cy="342" r="3.5" fill="#000000"/>
<circle cx="633.4" cy="356.7" r="3.5" fill="#000000"/>
<circle cx="643.8" cy="356.7" r="3.5" fill="#000000"/>
<circle cx="654.7" cy="361.6" r="3.5" fill="#000000"/>
<circle cx="643.8" cy="364.9" r="3.5" fill="#000000"/>
<line x1="643.8" y1="344.2" x2="643.8" y2="363.2" stroke="#000000" stroke-width="1.4"/>
<line x1="636.5" y1="344.2" x2="651.0999999999999" y2="344.2" stroke="#000000" stroke-width="1.5"/>
<line x1="636.5" y1="363.2" x2="651.0999999999999" y2="363.2" stroke="#000000" stroke-width="1.5"/>
<line x1="629.8" y1="353.8" x2="657.8" y2="353.8" stroke="#000000" stroke-width="2.2"/>
<rect x="629.90" y="370.60" width="7" height="7" fill="#FF2600"/>
<rect x="640.30" y="378.80" width="7" height="7" fill="#FF2600"/>
<rect x="651.20" y="377.70" width="7" height="7" fill="#FF2600"/>
<rect x="635.40" y="395.20" width="7" height="7" fill="#FF2600"/>
<rect x="645.70" y="399.00" width="7" height="7" fill="#FF2600"/>
<rect x="640.30" y="407.70" width="7" height="7" fill="#FF2600"/>
<line x1="643.8" y1="377.4" x2="643.8" y2="406.8" stroke="#FF2600" stroke-width="1.4"/>
<line x1="636.5" y1="377.4" x2="651.0999999999999" y2="377.4" stroke="#FF2600" stroke-width="1.5"/>
<line x1="636.5" y1="406.8" x2="651.0999999999999" y2="406.8" stroke="#FF2600" stroke-width="1.5"/>
<line x1="629.8" y1="392.1" x2="657.8" y2="392.1" stroke="#FF2600" stroke-width="2.2"/>
<line x1="407.2" y1="606.6" x2="407.2" y2="781" stroke="#000000" stroke-width="2.2"/>
<line x1="399.2" y1="607.5" x2="407.2" y2="607.5" stroke="#000000" stroke-width="2.2"/>
<text x="396.5" y="612.1" font-size="13" text-anchor="end" font-weight="bold" >0.20</text>
<line x1="399.2" y1="650.5" x2="407.2" y2="650.5" stroke="#000000" stroke-width="2.2"/>
<text x="396.5" y="655.1" font-size="13" text-anchor="end" font-weight="bold" >0.18</text>
<line x1="399.2" y1="693.75" x2="407.2" y2="693.75" stroke="#000000" stroke-width="2.2"/>
<text x="396.5" y="698.35" font-size="13" text-anchor="end" font-weight="bold" >0.16</text>
<line x1="399.2" y1="737" x2="407.2" y2="737" stroke="#000000" stroke-width="2.2"/>
<text x="396.5" y="741.6" font-size="13" text-anchor="end" font-weight="bold" >0.14</text>
<line x1="399.2" y1="779.5" x2="407.2" y2="779.5" stroke="#000000" stroke-width="2.2"/>
<text x="396.5" y="784.1" font-size="13" text-anchor="end" font-weight="bold" >0.12</text>
<line x1="406.09999999999997" y1="780" x2="665" y2="780" stroke="#000000" stroke-width="2.2"/>
<line x1="434" y1="780" x2="434" y2="787.6" stroke="#000000" stroke-width="2.1"/>
<text x="434" y="801.6" font-size="13" text-anchor="middle" font-weight="bold" >0</text>
<line x1="475" y1="780" x2="475" y2="787.6" stroke="#000000" stroke-width="2.1"/>
<line x1="515.5" y1="780" x2="515.5" y2="787.6" stroke="#000000" stroke-width="2.1"/>
<text x="515.5" y="801.6" font-size="13" text-anchor="middle" font-weight="bold" >7</text>
<line x1="556.5" y1="780" x2="556.5" y2="787.6" stroke="#000000" stroke-width="2.1"/>
<text x="556.5" y="801.6" font-size="13" text-anchor="middle" font-weight="bold" >14</text>
<line x1="597.2" y1="780" x2="597.2" y2="787.6" stroke="#000000" stroke-width="2.1"/>
<text x="597.2" y="801.6" font-size="13" text-anchor="middle" font-weight="bold" >21</text>
<line x1="638" y1="780" x2="638" y2="787.6" stroke="#000000" stroke-width="2.1"/>
<text x="638" y="801.6" font-size="13" text-anchor="middle" font-weight="bold" >adult</text>
<text x="536.3" y="588.3" font-size="16.4" text-anchor="middle" font-weight="bold">skin Na<tspan font-size="12" dy="-6">+</tspan><tspan dy="6">K<tspan font-size="12" dy="-6">+</tspan><tspan dy="6">/ml</tspan></tspan></text>
<text x="338" y="588" font-size="20.5" text-anchor="start" font-weight="bold" >(f)</text>
<text x="536" y="821.5" font-size="14" text-anchor="middle" font-weight="bold" >age (days)</text>
<text transform="translate(360.1,694) rotate(-90)" font-size="14" text-anchor="middle" font-weight="bold">mmol/ml</text>
<rect x="420.30" y="666.30" width="7" height="7" fill="#FF2600"/>
<rect x="430.50" y="676.10" width="7" height="7" fill="#FF2600"/>
<rect x="440.80" y="676.30" width="7" height="7" fill="#FF2600"/>
<line x1="434" y1="671.5" x2="434" y2="680.5" stroke="#FF2600" stroke-width="1.4"/>
<line x1="426.7" y1="671.5" x2="441.3" y2="671.5" stroke="#FF2600" stroke-width="1.5"/>
<line x1="426.7" y1="680.5" x2="441.3" y2="680.5" stroke="#FF2600" stroke-width="1.5"/>
<line x1="420" y1="675.4" x2="448" y2="675.4" stroke="#FF2600" stroke-width="2.2"/>
<circle cx="423.8" cy="681.5" r="3.5" fill="#000000"/>
<circle cx="444.6" cy="670" r="3.5" fill="#000000"/>
<circle cx="444.6" cy="672" r="3.5" fill="#000000"/>
<line x1="434" y1="667.4" x2="434" y2="680.5" stroke="#000000" stroke-width="1.4"/>
<line x1="426.7" y1="667.4" x2="441.3" y2="667.4" stroke="#000000" stroke-width="1.5"/>
<line x1="426.7" y1="680.5" x2="441.3" y2="680.5" stroke="#000000" stroke-width="1.5"/>
<line x1="420" y1="675.3" x2="448" y2="675.3" stroke="#000000" stroke-width="2.2"/>
<circle cx="505.6" cy="682" r="3.5" fill="#000000"/>
<circle cx="519.5" cy="678.8" r="3.5" fill="#000000"/>
<circle cx="525.9" cy="684.7" r="3.5" fill="#000000"/>
<line x1="515.5" y1="679.4" x2="515.5" y2="684" stroke="#000000" stroke-width="1.4"/>
<line x1="508.2" y1="679.4" x2="522.8" y2="679.4" stroke="#000000" stroke-width="1.5"/>
<line x1="508.2" y1="684" x2="522.8" y2="684" stroke="#000000" stroke-width="1.5"/>
<line x1="501.5" y1="681.5" x2="529.5" y2="681.5" stroke="#000000" stroke-width="2.2"/>
<rect x="502.10" y="687.60" width="7" height="7" fill="#FF2600"/>
<rect x="509.10" y="681.20" width="7" height="7" fill="#FF2600"/>
<rect x="516.00" y="684.90" width="7" height="7" fill="#FF2600"/>
<line x1="515.5" y1="684.5" x2="515.5" y2="689.5" stroke="#FF2600" stroke-width="1.4"/>
<line x1="508.2" y1="684.5" x2="522.8" y2="684.5" stroke="#FF2600" stroke-width="1.5"/>
<line x1="508.2" y1="689.5" x2="522.8" y2="689.5" stroke="#FF2600" stroke-width="1.5"/>
<line x1="501.5" y1="686.8" x2="529.5" y2="686.8" stroke="#FF2600" stroke-width="2.2"/>
<circle cx="556.5" cy="658.6" r="3.5" fill="#000000"/>
<circle cx="546.6" cy="671.4" r="3.5" fill="#000000"/>
<circle cx="556.5" cy="693.7" r="3.5" fill="#000000"/>
<line x1="556.5" y1="657" x2="556.5" y2="692.1" stroke="#000000" stroke-width="1.4"/>
<line x1="549.2" y1="657" x2="563.8" y2="657" stroke="#000000" stroke-width="1.5"/>
<line x1="549.2" y1="692.1" x2="563.8" y2="692.1" stroke="#000000" stroke-width="1.5"/>
<line x1="542.5" y1="674.5" x2="570.5" y2="674.5" stroke="#000000" stroke-width="2.2"/>
<rect x="543.10" y="675.90" width="7" height="7" fill="#FF2600"/>
<rect x="563.30" y="671.10" width="7" height="7" fill="#FF2600"/>
<rect x="563.30" y="681.70" width="7" height="7" fill="#FF2600"/>
<line x1="556.5" y1="674.6" x2="556.5" y2="685.2" stroke="#FF2600" stroke-width="1.4"/>
<line x1="549.2" y1="674.6" x2="563.8" y2="674.6" stroke="#FF2600" stroke-width="1.5"/>
<line x1="549.2" y1="685.2" x2="563.8" y2="685.2" stroke="#FF2600" stroke-width="1.5"/>
<line x1="542.5" y1="679.9" x2="570.5" y2="679.9" stroke="#FF2600" stroke-width="2.2"/>
<circle cx="587.1" cy="664.3" r="3.5" fill="#000000"/>
<circle cx="597.4" cy="669.8" r="3.5" fill="#000000"/>
<circle cx="597.4" cy="680.1" r="3.5" fill="#000000"/>
<line x1="597" y1="662.7" x2="597" y2="680" stroke="#000000" stroke-width="1.4"/>
<line x1="589.7" y1="662.7" x2="604.3" y2="662.7" stroke="#000000" stroke-width="1.5"/>
<line x1="589.7" y1="680" x2="604.3" y2="680" stroke="#000000" stroke-width="1.5"/>
<line x1="583" y1="671" x2="611" y2="671" stroke="#000000" stroke-width="2.2"/>
<rect x="583.60" y="670.60" width="7" height="7" fill="#FF2600"/>
<rect x="603.70" y="671.70" width="7" height="7" fill="#FF2600"/>
<rect x="593.90" y="709.90" width="7" height="7" fill="#FF2600"/>
<line x1="597" y1="664.7" x2="597" y2="710.1" stroke="#FF2600" stroke-width="1.4"/>
<line x1="589.7" y1="664.7" x2="604.3" y2="664.7" stroke="#FF2600" stroke-width="1.5"/>
<line x1="589.7" y1="710.1" x2="604.3" y2="710.1" stroke="#FF2600" stroke-width="1.5"/>
<line x1="583" y1="687.2" x2="611" y2="687.2" stroke="#FF2600" stroke-width="2.2"/>
<circle cx="627.4" cy="646.9" r="3.5" fill="#000000"/>
<circle cx="641.6" cy="645.3" r="3.5" fill="#000000"/>
<circle cx="648.1" cy="644.7" r="3.5" fill="#000000"/>
<circle cx="627.4" cy="654" r="3.5" fill="#000000"/>
<circle cx="634.5" cy="658.3" r="3.5" fill="#000000"/>
<circle cx="648.7" cy="660.5" r="3.5" fill="#000000"/>
<line x1="637.5" y1="646" x2="637.5" y2="658" stroke="#000000" stroke-width="1.4"/>
<line x1="630.2" y1="646" x2="644.8" y2="646" stroke="#000000" stroke-width="1.5"/>
<line x1="630.2" y1="658" x2="644.8" y2="658" stroke="#000000" stroke-width="1.5"/>
<line x1="623.5" y1="651.8" x2="651.5" y2="651.8" stroke="#000000" stroke-width="2.2"/>
<rect x="631.00" y="643.90" width="7" height="7" fill="#FF2600"/>
<rect x="623.90" y="659.70" width="7" height="7" fill="#FF2600"/>
<rect x="631.00" y="662.50" width="7" height="7" fill="#FF2600"/>
<rect x="638.10" y="658.10" width="7" height="7" fill="#FF2600"/>
<rect x="638.10" y="668.50" width="7" height="7" fill="#FF2600"/>
<rect x="631.00" y="674.50" width="7" height="7" fill="#FF2600"/>
<rect x="644.60" y="659.20" width="7" height="7" fill="#FF2600"/>
<line x1="637.5" y1="648" x2="637.5" y2="661" stroke="#FF2600" stroke-width="1.4"/>
<line x1="630.2" y1="648" x2="644.8" y2="648" stroke="#FF2600" stroke-width="1.5"/>
<line x1="630.2" y1="661" x2="644.8" y2="661" stroke="#FF2600" stroke-width="1.5"/>
<line x1="623.5" y1="654.5" x2="651.5" y2="654.5" stroke="#FF2600" stroke-width="2.2"/>
<circle cx="691.7" cy="619.1" r="3.6" fill="#000000"/>
<text x="703.5" y="623.1" font-size="13.5" text-anchor="start" font-weight="bold" >CON</text>
<rect x="688.20" y="639.70" width="7" height="7" fill="#FF2600"/>
<text x="703.5" y="646.6" font-size="13.5" text-anchor="start" font-weight="bold" >Hsd2-/-</text>
</svg>
</body></html>
